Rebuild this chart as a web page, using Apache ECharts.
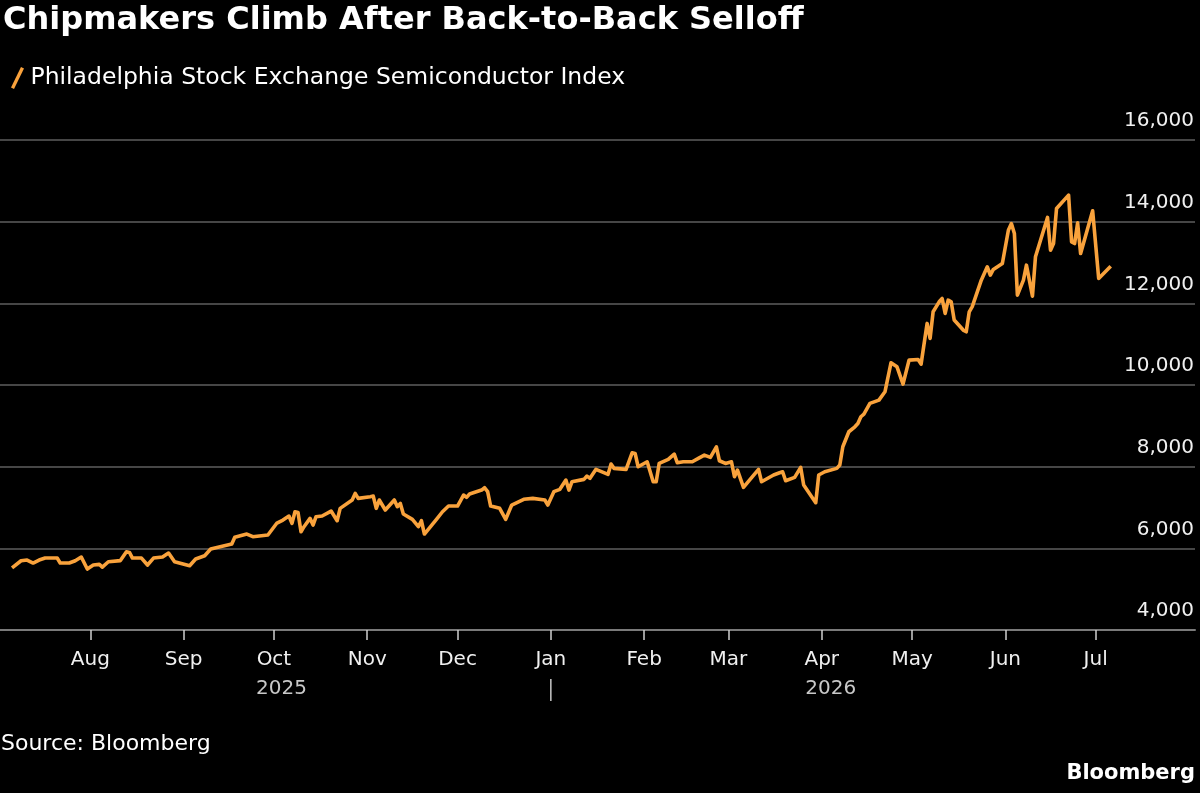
<!DOCTYPE html>
<html>
<head>
<meta charset="utf-8">
<title>Chipmakers Climb After Back-to-Back Selloff</title>
<script src="https://cdn.jsdelivr.net/npm/echarts@6/dist/echarts.min.js"></script>
<style>
  html, body { margin: 0; padding: 0; background: #000; }
  #chart { width: 1200px; height: 793px; }
</style>
</head>
<body>
<div id="chart"></div>
<script>
// Philadelphia Stock Exchange Semiconductor Index
const dates = [
  '2025-07-06','2025-07-09','2025-07-11','2025-07-13','2025-07-15','2025-07-17','2025-07-21','2025-07-22','2025-07-25','2025-07-27','2025-07-29','2025-07-31',
  '2025-08-02','2025-08-04','2025-08-05','2025-08-07','2025-08-11','2025-08-13','2025-08-14','2025-08-15','2025-08-18','2025-08-20','2025-08-22','2025-08-25','2025-08-27','2025-08-29',
  '2025-09-03','2025-09-05','2025-09-08','2025-09-10','2025-09-17','2025-09-18','2025-09-22','2025-09-24','2025-09-29',
  '2025-10-02','2025-10-04','2025-10-06','2025-10-07','2025-10-08','2025-10-09','2025-10-10','2025-10-11','2025-10-13','2025-10-14','2025-10-15','2025-10-17','2025-10-20','2025-10-22','2025-10-23','2025-10-27','2025-10-28','2025-10-29',
  '2025-11-02','2025-11-03','2025-11-04','2025-11-05','2025-11-07','2025-11-10','2025-11-11','2025-11-12','2025-11-13','2025-11-16','2025-11-18','2025-11-19','2025-11-20','2025-11-24','2025-11-26','2025-11-28',
  '2025-12-01','2025-12-03','2025-12-04','2025-12-05','2025-12-09','2025-12-10','2025-12-11','2025-12-12','2025-12-15','2025-12-17','2025-12-19','2025-12-23','2025-12-26','2025-12-30','2025-12-31',
  '2026-01-02','2026-01-04','2026-01-06','2026-01-07','2026-01-08','2026-01-12','2026-01-13','2026-01-14','2026-01-16','2026-01-20','2026-01-21','2026-01-22','2026-01-26','2026-01-28','2026-01-29','2026-01-30',
  '2026-02-02','2026-02-04','2026-02-05','2026-02-06','2026-02-09','2026-02-11','2026-02-12','2026-02-14','2026-02-17','2026-02-19','2026-02-21','2026-02-23','2026-02-25','2026-02-26','2026-02-28',
  '2026-03-02','2026-03-03','2026-03-04','2026-03-06','2026-03-08','2026-03-11','2026-03-12','2026-03-16','2026-03-18','2026-03-19','2026-03-20','2026-03-23','2026-03-25','2026-03-26','2026-03-30','2026-03-31',
  '2026-04-02','2026-04-06','2026-04-07','2026-04-08','2026-04-10','2026-04-12','2026-04-13','2026-04-14','2026-04-15','2026-04-17','2026-04-20','2026-04-22','2026-04-24','2026-04-26','2026-04-28','2026-04-30',
  '2026-05-03','2026-05-04','2026-05-06','2026-05-07','2026-05-08','2026-05-10','2026-05-11','2026-05-12','2026-05-13','2026-05-14','2026-05-15','2026-05-18','2026-05-19','2026-05-20','2026-05-21','2026-05-24','2026-05-26','2026-05-27','2026-05-28','2026-05-31',
  '2026-06-02','2026-06-03','2026-06-04','2026-06-05','2026-06-07','2026-06-08','2026-06-10','2026-06-11','2026-06-15','2026-06-16','2026-06-17','2026-06-18','2026-06-22','2026-06-23','2026-06-24','2026-06-25','2026-06-26','2026-06-30',
  '2026-07-02','2026-07-06'
];
const values = [
  5520, 5696, 5713, 5640, 5713, 5762, 5762, 5640, 5640, 5696, 5787, 5493,
  5591, 5608, 5542, 5672, 5700, 5917, 5900, 5762, 5762, 5591, 5762, 5787, 5885, 5672,
  5574, 5738, 5819, 5983, 6105, 6270, 6350, 6285, 6326,
  6620, 6693, 6791, 6612, 6896, 6880, 6407, 6530, 6734, 6570, 6774, 6791, 6913, 6676, 6979, 7183, 7346, 7224,
  7265, 7280, 6979, 7183, 6938, 7183, 7020, 7100, 6840, 6710, 6530, 6676, 6350, 6710, 6896, 7036,
  7036, 7305, 7248, 7330, 7427, 7484, 7387, 7036, 6979, 6710, 7060, 7200, 7224, 7183, 7060,
  7387, 7445, 7672, 7427, 7630, 7689, 7770, 7714, 7934, 7812, 8064, 7958, 7934, 8340, 8325, 7998,
  8120, 7630, 7630, 8080, 8178, 8308, 8096, 8120, 8120, 8203, 8284, 8227, 8487, 8145, 8080,
  8120, 7753, 7917, 7494, 7672, 7934, 7630, 7795, 7851, 7876, 7655, 7738, 7982, 7550, 7117, 7795,
  7876, 7958, 8039, 8487, 8855, 8977, 9059, 9223, 9288, 9549, 9630, 9834, 10544, 10446, 10022, 10610,
  10626, 10511, 11508, 11141, 11793, 12037, 12118, 11753, 12078, 12037, 11590, 11345, 11304, 11793, 11919, 12568, 12894, 12690, 12830, 12976,
  13790, 13954, 13710, 12200, 12568, 12935, 12176, 13139, 14103, 13302, 13465, 14323, 14649, 13506, 13465, 13970, 13221, 14266,
  12610, 12910
];

// axis ticks
const monthTicks = ['2025-08-01','2025-09-01','2025-10-01','2025-11-01','2025-12-01','2026-01-01',
                    '2026-02-01','2026-03-01','2026-04-01','2026-05-01','2026-06-01','2026-07-01'];
const monthLabels = ['Aug','Sep','Oct','Nov','Dec','Jan','Feb','Mar','Apr','May','Jun','Jul'];
const yearLabels = ['2025', '2026'];
const yearBreak = '2026-01-01';
const xRange = ['2025-07-02', '2026-08-03'];
const yMin = 4000, yMax = 16000, yStep = 2000;

(function() {
    const FONT = 'DejaVu Sans';
    const ORANGE = '#f9a23c';

    // local-midnight timestamp from 'YYYY-MM-DD'
    function toTime(s) {
        const p = s.split('-');
        return new Date(+p[0], +p[1] - 1, +p[2]).getTime();
    }

    function init() {
        const chart = echarts.init(document.getElementById('chart'));
        const tickTimes = monthTicks.map(toTime);
        const seriesData = dates.map((d, i) => [toTime(d), values[i]]);

        // x is a plain value axis of timestamps so the month ticks can be placed exactly
        chart.setOption({
            animation: false,
            backgroundColor: '#000',
            textStyle: { fontFamily: FONT },
            title: {
                text: 'Chipmakers Climb After Back-to-Back Selloff',
                left: -2, top: 0,
                textStyle: { color: '#fff', fontSize: 32, fontWeight: 'bold', fontFamily: FONT }
            },
            legend: {
                left: 6, top: 61,
                itemWidth: 16, itemHeight: 22, itemGap: 14,
                icon: 'path://M10,0 L13,1.5 L3,22 L0,20.5 Z',
                textStyle: { color: '#fff', fontSize: 23.5, fontFamily: FONT },
                data: ['Philadelphia Stock Exchange Semiconductor Index']
            },
            grid: { left: 0, right: 5, top: 140, bottom: 163 },
            xAxis: {
                type: 'value',
                min: toTime(xRange[0]),
                max: toTime(xRange[1]),
                axisLine: { lineStyle: { color: '#7a7a7a', width: 2 } },
                axisTick: { show: true, customValues: tickTimes, length: 10, lineStyle: { color: '#cfcfcf', width: 1.5 } },
                axisLabel: {
                    customValues: tickTimes,
                    margin: 20,
                    color: '#f0f0f0', fontSize: 20, fontFamily: FONT,
                    formatter: v => {
                        const i = tickTimes.indexOf(v);
                        return i >= 0 ? monthLabels[i] : '';
                    }
                },
                splitLine: { show: false }
            },
            yAxis: {
                type: 'value',
                position: 'right',
                min: yMin, max: yMax, interval: yStep,
                axisLine: { show: false },
                axisTick: { show: false },
                axisLabel: {
                    inside: true, margin: 1,
                    verticalAlign: 'bottom', padding: [0, 0, 9, 0],
                    color: '#f0f0f0', fontSize: 20, fontFamily: FONT,
                    formatter: v => v.toLocaleString('en-US')
                },
                splitLine: { lineStyle: { color: '#5e5e5e', width: 1.5 } }
            },
            series: [{
                name: 'Philadelphia Stock Exchange Semiconductor Index',
                type: 'line',
                data: seriesData,
                showSymbol: false,
                color: ORANGE,
                lineStyle: { color: ORANGE, width: 3.6, join: 'round' }
            }]
        });

        // year labels under the month row, centred on each year's stretch of data
        const px = t => chart.convertToPixel({ xAxisIndex: 0 }, t);
        const xStart = px(toTime(dates[0]));
        const xBreak = px(toTime(yearBreak));
        const xEnd = px(toTime(dates[dates.length - 1]));
        const yearY = 689;

        chart.setOption({
            graphic: [
                { type: 'text', x: (xStart + xBreak) / 2, y: yearY,
                  style: { text: yearLabels[0], fill: '#c8c8c8', font: '20px ' + FONT, align: 'center', verticalAlign: 'middle' } },
                { type: 'text', x: (xBreak + xEnd) / 2, y: yearY,
                  style: { text: yearLabels[1], fill: '#c8c8c8', font: '20px ' + FONT, align: 'center', verticalAlign: 'middle' } },
                { type: 'line', shape: { x1: xBreak, y1: 679, x2: xBreak, y2: 701 },
                  style: { stroke: '#c8c8c8', lineWidth: 1.5 } },
                { type: 'text', left: 1, top: 733,
                  style: { text: 'Source: Bloomberg', fill: '#fff', font: '22px ' + FONT } },
                { type: 'text', right: 5, top: 763,
                  style: { text: 'Bloomberg', fill: '#fff', font: 'bold 21px ' + FONT } }
            ]
        });
    }

    if (document.readyState === 'loading') {
        document.addEventListener('DOMContentLoaded', init);
    } else {
        init();
    }
})();
</script>
</body>
</html>
